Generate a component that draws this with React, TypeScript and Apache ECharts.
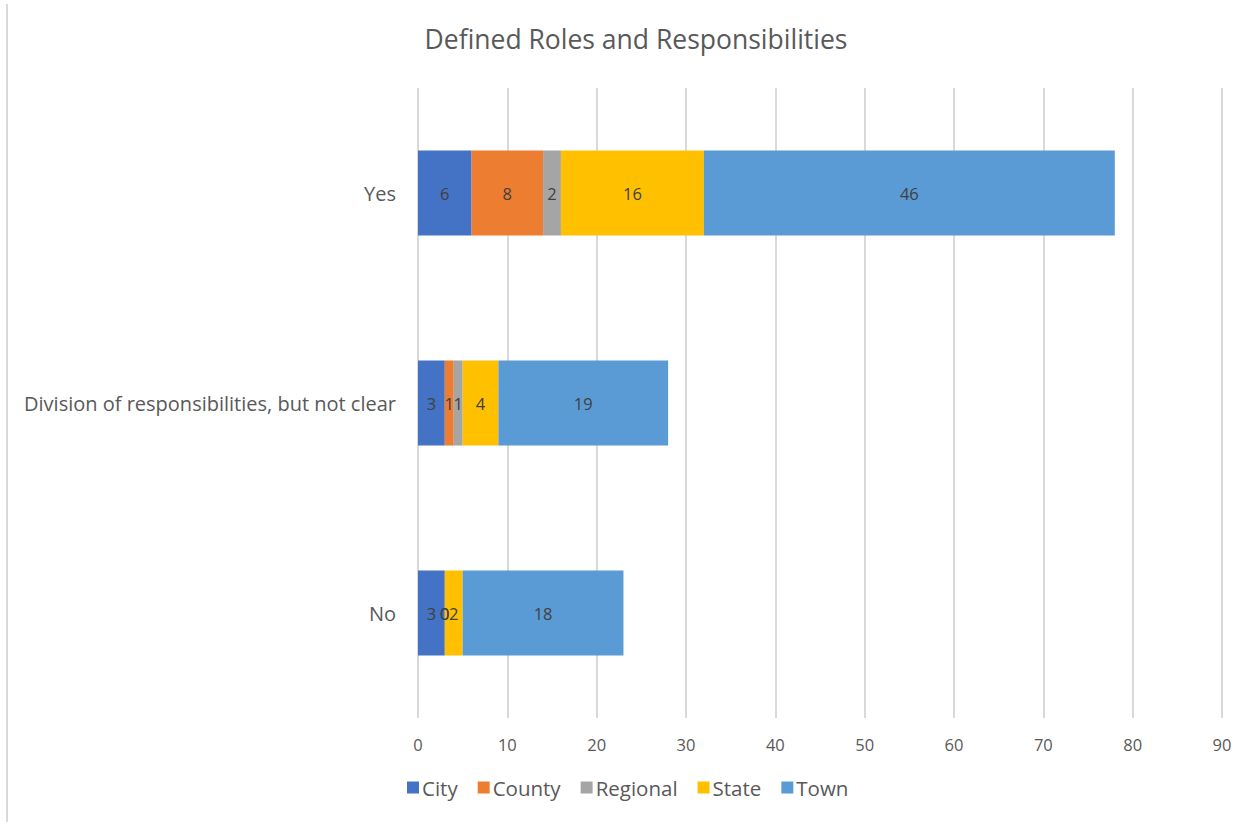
import React, { useEffect, useRef } from "react";
import * as echarts from "echarts";

const categories = ["Yes", "Division of responsibilities, but not clear", "No"];
const seriesNames = ["City", "County", "Regional", "State", "Town"];
const city = [6, 3, 3];
const county = [8, 1, 0];
const regional = [2, 1, 0];
const state = [16, 4, 2];
const town = [46, 19, 18];
const xTicks = [0, 10, 20, 30, 40, 50, 60, 70, 80, 90];
const colors = ["#4472C4", "#ED7D31", "#A5A5A5", "#FFC000", "#5B9BD5"];

const FONT = "'Open Sans', 'Noto Sans', sans-serif";

export default function App() {
  const ref = useRef<HTMLDivElement>(null);
  useEffect(() => {
    if (!ref.current) return;
    const chart = echarts.init(ref.current, null, { renderer: "svg" });
    const values = [city, county, regional, state, town];
    chart.setOption({
      animation: false,
      backgroundColor: "#ffffff",
      title: {
        text: "Defined Roles and Responsibilities",
        left: 631,
        top: 20,
        textAlign: "center",
        textStyle: { color: "#595959", fontSize: 26.5, fontWeight: "normal", fontFamily: FONT },
      },
      legend: {
        data: seriesNames,
        bottom: 19,
        left: 402,
        itemWidth: 12,
        itemHeight: 12,
        itemGap: 20,
        icon: "rect",
        textStyle: { color: "#595959", fontSize: 20.5, fontFamily: FONT, padding: [0, 0, 0, -2] },
      },
      grid: { left: 418, right: 28, top: 88, bottom: 104, containLabel: false },
      xAxis: {
        type: "value",
        min: xTicks[0],
        max: xTicks[xTicks.length - 1],
        interval: 10,
        axisLine: { show: false },
        axisTick: { show: false },
        axisLabel: { color: "#595959", fontSize: 16.5, fontFamily: FONT, margin: 18 },
        splitLine: { show: true, lineStyle: { color: "#D9D9D9", width: 2 } },
      },
      yAxis: {
        type: "category",
        data: categories,
        inverse: true,
        axisLine: { show: false },
        axisTick: { show: false },
        axisLabel: { color: "#595959", fontSize: 20, fontFamily: FONT, margin: 22 },
      },
      graphic: [
        {
          type: "line",
          shape: { x1: 7, y1: 4, x2: 7, y2: 822 },
          style: { stroke: "#D9D9D9", lineWidth: 2 },
        },
      ],
      series: seriesNames.map((name, i) => ({
        name,
        type: "bar",
        stack: "total",
        barWidth: 85,
        itemStyle: { color: colors[i] },
        label: {
          show: true,
          position: "inside",
          color: "#404040",
          fontSize: 16.5,
          fontFamily: FONT,
        },
        data: values[i],
      })),
    });
    return () => chart.dispose();
  }, []);
  return (
    <div
      ref={ref}
      style={{ position: "fixed", left: 0, top: 0, width: 1250, height: 822 }}
    />
  );
}
